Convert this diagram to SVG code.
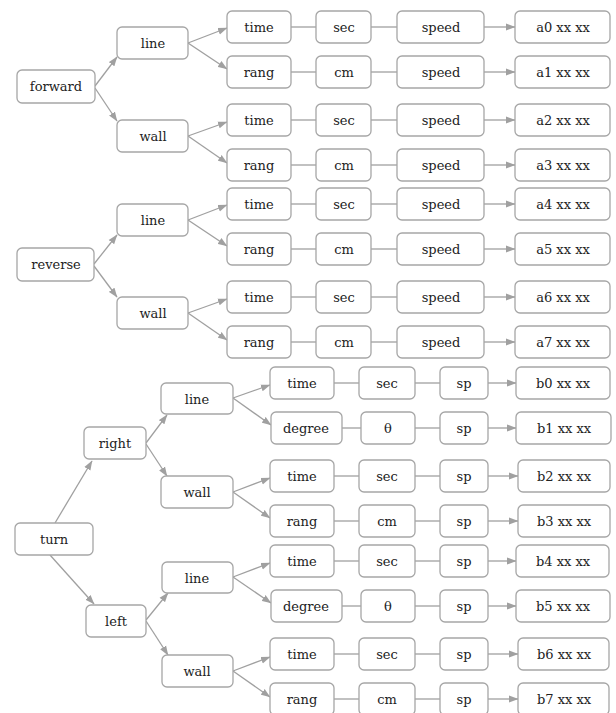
<svg xmlns="http://www.w3.org/2000/svg" width="616" height="713" viewBox="0 0 616 713">
<style>
rect{fill:#fff;stroke:#a6a6a6;stroke-width:1.3}
text{font-family:"DejaVu Serif","Liberation Serif",serif;font-size:13px;fill:#222;text-anchor:middle}
.c line{stroke:#a0a0a0;stroke-width:1.3}
.c .a{marker-end:url(#ah)}
</style>
<defs>
<marker id="ah" markerUnits="userSpaceOnUse" markerWidth="10" markerHeight="8" refX="9" refY="4" orient="auto">
<path d="M0,0.5 L9.5,4 L0,7.5 z" fill="#a0a0a0"/>
</marker>
</defs>
<rect x="0" y="0" width="616" height="713" style="stroke:none;fill:#fff"/>
<g class="c" id="connectors">
<line class="a" x1="95" y1="86" x2="117" y2="57"/>
<line class="a" x1="95" y1="88" x2="117" y2="121"/>
<line class="a" x1="188" y1="43" x2="227" y2="28"/>
<line class="a" x1="188" y1="43" x2="227" y2="69"/>
<line class="a" x1="188" y1="136" x2="227" y2="122"/>
<line class="a" x1="188" y1="136" x2="227" y2="163"/>
<line class="a" x1="94" y1="264" x2="117" y2="235"/>
<line class="a" x1="94" y1="266" x2="117" y2="297"/>
<line class="a" x1="188" y1="220" x2="227" y2="205"/>
<line class="a" x1="188" y1="220" x2="227" y2="246"/>
<line class="a" x1="188" y1="313" x2="227" y2="299"/>
<line class="a" x1="188" y1="313" x2="227" y2="340"/>
<line x1="291" y1="27" x2="316" y2="27"/><line x1="371" y1="27" x2="397" y2="27"/><line class="a" x1="484" y1="27" x2="515" y2="27"/>
<line x1="291" y1="72" x2="316" y2="72"/><line x1="371" y1="72" x2="397" y2="72"/><line class="a" x1="484" y1="72" x2="515" y2="72"/>
<line x1="291" y1="120" x2="316" y2="120"/><line x1="371" y1="120" x2="397" y2="120"/><line class="a" x1="484" y1="120" x2="515" y2="120"/>
<line x1="291" y1="165" x2="316" y2="165"/><line x1="371" y1="165" x2="397" y2="165"/><line class="a" x1="484" y1="165" x2="515" y2="165"/>
<line x1="291" y1="204" x2="316" y2="204"/><line x1="371" y1="204" x2="397" y2="204"/><line class="a" x1="484" y1="204" x2="515" y2="204"/>
<line x1="291" y1="249" x2="316" y2="249"/><line x1="371" y1="249" x2="397" y2="249"/><line class="a" x1="484" y1="249" x2="515" y2="249"/>
<line x1="291" y1="297" x2="316" y2="297"/><line x1="371" y1="297" x2="397" y2="297"/><line class="a" x1="484" y1="297" x2="515" y2="297"/>
<line x1="291" y1="342" x2="316" y2="342"/><line x1="371" y1="342" x2="397" y2="342"/><line class="a" x1="484" y1="342" x2="515" y2="342"/>
<line class="a" x1="55" y1="523" x2="92" y2="461"/>
<line class="a" x1="50" y1="555" x2="94" y2="604"/>
<line class="a" x1="146" y1="443" x2="167" y2="415"/>
<line class="a" x1="146" y1="444" x2="167" y2="476"/>
<line class="a" x1="146" y1="620" x2="168" y2="593"/>
<line class="a" x1="146" y1="621" x2="168" y2="655"/>
<line class="a" x1="233" y1="398" x2="270" y2="385"/>
<line class="a" x1="233" y1="398" x2="271" y2="425"/>
<line class="a" x1="233" y1="492" x2="270" y2="478"/>
<line class="a" x1="233" y1="492" x2="270" y2="518"/>
<line class="a" x1="233" y1="577" x2="270" y2="563"/>
<line class="a" x1="233" y1="577" x2="271" y2="603"/>
<line class="a" x1="233" y1="671" x2="270" y2="657"/>
<line class="a" x1="233" y1="671" x2="270" y2="697"/>
<line x1="334" y1="383" x2="359" y2="383"/><line x1="415" y1="383" x2="440" y2="383"/><line class="a" x1="488" y1="383" x2="516" y2="383"/>
<line x1="342" y1="428" x2="361" y2="428"/><line x1="415" y1="428" x2="440" y2="428"/><line class="a" x1="488" y1="428" x2="516" y2="428"/>
<line x1="334" y1="476" x2="359" y2="476"/><line x1="415" y1="476" x2="440" y2="476"/><line class="a" x1="488" y1="476" x2="518" y2="476"/>
<line x1="334" y1="521" x2="359" y2="521"/><line x1="415" y1="521" x2="440" y2="521"/><line class="a" x1="488" y1="521" x2="518" y2="521"/>
<line x1="334" y1="561" x2="359" y2="561"/><line x1="415" y1="561" x2="440" y2="561"/><line class="a" x1="488" y1="561" x2="516" y2="561"/>
<line x1="342" y1="606" x2="361" y2="606"/><line x1="415" y1="606" x2="440" y2="606"/><line class="a" x1="488" y1="606" x2="516" y2="606"/>
<line x1="334" y1="654" x2="359" y2="654"/><line x1="415" y1="654" x2="440" y2="654"/><line class="a" x1="488" y1="654" x2="518" y2="654"/>
<line x1="334" y1="699" x2="359" y2="699"/><line x1="415" y1="699" x2="440" y2="699"/><line class="a" x1="488" y1="699" x2="518" y2="699"/>
</g>
<g id="forward"><rect x="17" y="70" width="78" height="33" rx="5"/><text x="56" y="91">forward</text></g>
<g id="f_line"><rect x="117" y="27" width="71" height="32" rx="5"/><text x="153" y="48">line</text></g>
<g id="f_wall"><rect x="117" y="120" width="71" height="32" rx="5"/><text x="153" y="141">wall</text></g>
<g id="reverse"><rect x="17" y="248" width="77" height="33" rx="5"/><text x="56" y="269">reverse</text></g>
<g id="r_line"><rect x="117" y="204" width="71" height="32" rx="5"/><text x="153" y="225">line</text></g>
<g id="r_wall"><rect x="117" y="297" width="71" height="32" rx="5"/><text x="153" y="318">wall</text></g>
<g id="a0_c1"><rect x="227" y="11" width="64" height="32" rx="5"/><text x="259" y="32">time</text></g>
<g id="a0_c2"><rect x="316" y="11" width="55" height="32" rx="5"/><text x="344" y="32">sec</text></g>
<g id="a0_c3"><rect x="397" y="11" width="87" height="32" rx="5"/><text x="441" y="32">speed</text></g>
<g id="a0"><rect x="515" y="11" width="95" height="32" rx="5"/><text x="563" y="32">a0 xx xx</text></g>
<g id="a1_c1"><rect x="227" y="56" width="64" height="32" rx="5"/><text x="259" y="77">rang</text></g>
<g id="a1_c2"><rect x="316" y="56" width="55" height="32" rx="5"/><text x="344" y="77">cm</text></g>
<g id="a1_c3"><rect x="397" y="56" width="87" height="32" rx="5"/><text x="441" y="77">speed</text></g>
<g id="a1"><rect x="515" y="56" width="95" height="32" rx="5"/><text x="563" y="77">a1 xx xx</text></g>
<g id="a2_c1"><rect x="227" y="104" width="64" height="32" rx="5"/><text x="259" y="125">time</text></g>
<g id="a2_c2"><rect x="316" y="104" width="55" height="32" rx="5"/><text x="344" y="125">sec</text></g>
<g id="a2_c3"><rect x="397" y="104" width="87" height="32" rx="5"/><text x="441" y="125">speed</text></g>
<g id="a2"><rect x="515" y="104" width="95" height="32" rx="5"/><text x="563" y="125">a2 xx xx</text></g>
<g id="a3_c1"><rect x="227" y="149" width="64" height="32" rx="5"/><text x="259" y="170">rang</text></g>
<g id="a3_c2"><rect x="316" y="149" width="55" height="32" rx="5"/><text x="344" y="170">cm</text></g>
<g id="a3_c3"><rect x="397" y="149" width="87" height="32" rx="5"/><text x="441" y="170">speed</text></g>
<g id="a3"><rect x="515" y="149" width="95" height="32" rx="5"/><text x="563" y="170">a3 xx xx</text></g>
<g id="a4_c1"><rect x="227" y="188" width="64" height="32" rx="5"/><text x="259" y="209">time</text></g>
<g id="a4_c2"><rect x="316" y="188" width="55" height="32" rx="5"/><text x="344" y="209">sec</text></g>
<g id="a4_c3"><rect x="397" y="188" width="87" height="32" rx="5"/><text x="441" y="209">speed</text></g>
<g id="a4"><rect x="515" y="188" width="95" height="32" rx="5"/><text x="563" y="209">a4 xx xx</text></g>
<g id="a5_c1"><rect x="227" y="233" width="64" height="32" rx="5"/><text x="259" y="254">rang</text></g>
<g id="a5_c2"><rect x="316" y="233" width="55" height="32" rx="5"/><text x="344" y="254">cm</text></g>
<g id="a5_c3"><rect x="397" y="233" width="87" height="32" rx="5"/><text x="441" y="254">speed</text></g>
<g id="a5"><rect x="515" y="233" width="95" height="32" rx="5"/><text x="563" y="254">a5 xx xx</text></g>
<g id="a6_c1"><rect x="227" y="281" width="64" height="32" rx="5"/><text x="259" y="302">time</text></g>
<g id="a6_c2"><rect x="316" y="281" width="55" height="32" rx="5"/><text x="344" y="302">sec</text></g>
<g id="a6_c3"><rect x="397" y="281" width="87" height="32" rx="5"/><text x="441" y="302">speed</text></g>
<g id="a6"><rect x="515" y="281" width="95" height="32" rx="5"/><text x="563" y="302">a6 xx xx</text></g>
<g id="a7_c1"><rect x="227" y="326" width="64" height="32" rx="5"/><text x="259" y="347">rang</text></g>
<g id="a7_c2"><rect x="316" y="326" width="55" height="32" rx="5"/><text x="344" y="347">cm</text></g>
<g id="a7_c3"><rect x="397" y="326" width="87" height="32" rx="5"/><text x="441" y="347">speed</text></g>
<g id="a7"><rect x="515" y="326" width="95" height="32" rx="5"/><text x="563" y="347">a7 xx xx</text></g>
<g id="turn"><rect x="15" y="523" width="78" height="32" rx="5"/><text x="54" y="544">turn</text></g>
<g id="right"><rect x="84" y="427" width="62" height="32" rx="5"/><text x="115" y="448">right</text></g>
<g id="left"><rect x="86" y="605" width="60" height="32" rx="5"/><text x="116" y="626">left</text></g>
<g id="rt_line"><rect x="161" y="383" width="72" height="31" rx="5"/><text x="197" y="404">line</text></g>
<g id="rt_wall"><rect x="161" y="476" width="72" height="32" rx="5"/><text x="197" y="497">wall</text></g>
<g id="lt_line"><rect x="162" y="562" width="71" height="31" rx="5"/><text x="197" y="583">line</text></g>
<g id="lt_wall"><rect x="162" y="655" width="71" height="32" rx="5"/><text x="197" y="676">wall</text></g>
<g id="b0_c1"><rect x="270" y="367" width="64" height="32" rx="5"/><text x="302" y="388">time</text></g>
<g id="b0_c2"><rect x="359" y="367" width="56" height="32" rx="5"/><text x="387" y="388">sec</text></g>
<g id="b0_c3"><rect x="440" y="367" width="48" height="32" rx="5"/><text x="464" y="388">sp</text></g>
<g id="b0"><rect x="516" y="367" width="94" height="32" rx="5"/><text x="563" y="388">b0 xx xx</text></g>
<g id="b1_c1"><rect x="271" y="412" width="71" height="32" rx="5"/><text x="306" y="433">degree</text></g>
<g id="b1_c2"><rect x="361" y="412" width="54" height="32" rx="5"/><text x="388" y="433">θ</text></g>
<g id="b1_c3"><rect x="440" y="412" width="48" height="32" rx="5"/><text x="464" y="433">sp</text></g>
<g id="b1"><rect x="516" y="412" width="95" height="32" rx="5"/><text x="564" y="433">b1 xx xx</text></g>
<g id="b2_c1"><rect x="270" y="460" width="64" height="32" rx="5"/><text x="302" y="481">time</text></g>
<g id="b2_c2"><rect x="359" y="460" width="56" height="32" rx="5"/><text x="387" y="481">sec</text></g>
<g id="b2_c3"><rect x="440" y="460" width="48" height="32" rx="5"/><text x="464" y="481">sp</text></g>
<g id="b2"><rect x="518" y="460" width="92" height="32" rx="5"/><text x="564" y="481">b2 xx xx</text></g>
<g id="b3_c1"><rect x="270" y="505" width="64" height="32" rx="5"/><text x="302" y="526">rang</text></g>
<g id="b3_c2"><rect x="359" y="505" width="56" height="32" rx="5"/><text x="387" y="526">cm</text></g>
<g id="b3_c3"><rect x="440" y="505" width="48" height="32" rx="5"/><text x="464" y="526">sp</text></g>
<g id="b3"><rect x="518" y="505" width="92" height="32" rx="5"/><text x="564" y="526">b3 xx xx</text></g>
<g id="b4_c1"><rect x="270" y="545" width="64" height="32" rx="5"/><text x="302" y="566">time</text></g>
<g id="b4_c2"><rect x="359" y="545" width="56" height="32" rx="5"/><text x="387" y="566">sec</text></g>
<g id="b4_c3"><rect x="440" y="545" width="48" height="32" rx="5"/><text x="464" y="566">sp</text></g>
<g id="b4"><rect x="516" y="545" width="93" height="32" rx="5"/><text x="563" y="566">b4 xx xx</text></g>
<g id="b5_c1"><rect x="271" y="590" width="71" height="32" rx="5"/><text x="306" y="611">degree</text></g>
<g id="b5_c2"><rect x="361" y="590" width="54" height="32" rx="5"/><text x="388" y="611">θ</text></g>
<g id="b5_c3"><rect x="440" y="590" width="48" height="32" rx="5"/><text x="464" y="611">sp</text></g>
<g id="b5"><rect x="516" y="590" width="94" height="32" rx="5"/><text x="563" y="611">b5 xx xx</text></g>
<g id="b6_c1"><rect x="270" y="638" width="64" height="32" rx="5"/><text x="302" y="659">time</text></g>
<g id="b6_c2"><rect x="359" y="638" width="56" height="32" rx="5"/><text x="387" y="659">sec</text></g>
<g id="b6_c3"><rect x="440" y="638" width="48" height="32" rx="5"/><text x="464" y="659">sp</text></g>
<g id="b6"><rect x="518" y="638" width="91" height="32" rx="5"/><text x="564" y="659">b6 xx xx</text></g>
<g id="b7_c1"><rect x="270" y="683" width="64" height="32" rx="5"/><text x="302" y="704">rang</text></g>
<g id="b7_c2"><rect x="359" y="683" width="56" height="32" rx="5"/><text x="387" y="704">cm</text></g>
<g id="b7_c3"><rect x="440" y="683" width="48" height="32" rx="5"/><text x="464" y="704">sp</text></g>
<g id="b7"><rect x="518" y="683" width="91" height="32" rx="5"/><text x="564" y="704">b7 xx xx</text></g>
</svg>
